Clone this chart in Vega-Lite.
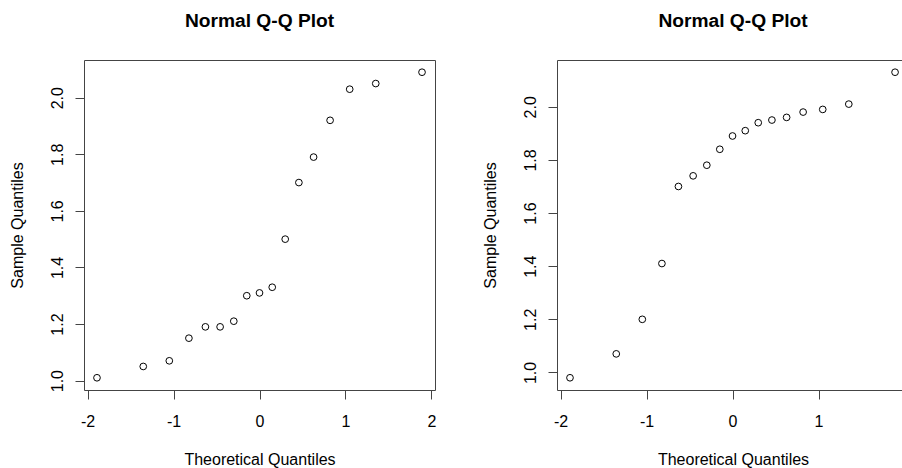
{
  "$schema": "https://vega.github.io/schema/vega-lite/v6.json",
  "padding": {"left": 9, "top": 11, "right": 0, "bottom": 0},
  "background": "white",
  "spacing": 45,
  "config": {
    "font": "Liberation Sans",
    "view": {"stroke": "#444", "strokeWidth": 1},
    "axis": {
      "grid": false,
      "domain": false,
      "tickColor": "#444",
      "tickSize": 9,
      "tickWidth": 1,
      "labelFont": "Liberation Sans",
      "labelFontSize": 16,
      "labelColor": "black",
      "titleFont": "Liberation Sans",
      "titleFontSize": 16,
      "titleFontWeight": "normal",
      "titleColor": "black"
    },
    "title": {
      "font": "Liberation Sans",
      "fontSize": 19.2,
      "fontWeight": "bold",
      "color": "black",
      "baseline": "alphabetic",
      "offset": 29,
      "anchor": "middle",
      "frame": "group"
    }
  },
  "datasets": {
    "left": [
      {"theoretical": -1.890, "sample": 1.01},
      {"theoretical": -1.352, "sample": 1.05},
      {"theoretical": -1.049, "sample": 1.07},
      {"theoretical": -0.821, "sample": 1.15},
      {"theoretical": -0.629, "sample": 1.19},
      {"theoretical": -0.458, "sample": 1.19},
      {"theoretical": -0.299, "sample": 1.21},
      {"theoretical": -0.148, "sample": 1.30},
      {"theoretical": 0.0, "sample": 1.31},
      {"theoretical": 0.148, "sample": 1.33},
      {"theoretical": 0.299, "sample": 1.50},
      {"theoretical": 0.458, "sample": 1.70},
      {"theoretical": 0.629, "sample": 1.79},
      {"theoretical": 0.821, "sample": 1.92},
      {"theoretical": 1.049, "sample": 2.03},
      {"theoretical": 1.352, "sample": 2.05},
      {"theoretical": 1.890, "sample": 2.09}
    ],
    "right": [
      {"theoretical": -1.890, "sample": 0.98},
      {"theoretical": -1.352, "sample": 1.07},
      {"theoretical": -1.049, "sample": 1.20},
      {"theoretical": -0.821, "sample": 1.41},
      {"theoretical": -0.629, "sample": 1.70},
      {"theoretical": -0.458, "sample": 1.74},
      {"theoretical": -0.299, "sample": 1.78},
      {"theoretical": -0.148, "sample": 1.84},
      {"theoretical": 0.0, "sample": 1.89},
      {"theoretical": 0.148, "sample": 1.91},
      {"theoretical": 0.299, "sample": 1.94},
      {"theoretical": 0.458, "sample": 1.95},
      {"theoretical": 0.629, "sample": 1.96},
      {"theoretical": 0.821, "sample": 1.98},
      {"theoretical": 1.049, "sample": 1.99},
      {"theoretical": 1.352, "sample": 2.01},
      {"theoretical": 1.890, "sample": 2.13}
    ]
  },
  "hconcat": [
    {
      "width": 351,
      "height": 330,
      "title": "Normal Q-Q Plot",
      "data": {"name": "left"},
      "mark": {"type": "point", "shape": "circle", "filled": false, "size": 45, "strokeWidth": 1, "color": "black", "opacity": 1},
      "encoding": {
        "x": {
          "field": "theoretical",
          "type": "quantitative",
          "scale": {"domain": [-2.041, 2.041], "nice": false, "zero": false},
          "axis": {
            "title": "Theoretical Quantiles",
            "values": [-2, -1, 0, 1, 2],
            "labelExpr": "'' + datum.value",
            "labelBaseline": "alphabetic",
            "labelPadding": 27.5,
            "titleBaseline": "alphabetic",
            "titleAlign": "center",
            "titleX": 175.5,
            "titleY": 74
          }
        },
        "y": {
          "field": "sample",
          "type": "quantitative",
          "scale": {"domain": [0.9668, 2.1332], "nice": false, "zero": false},
          "axis": {
            "title": "Sample Quantiles",
            "values": [1.0, 1.2, 1.4, 1.6, 1.8, 2.0],
            "labelExpr": "format(datum.value, '.1f')",
            "labelAngle": 270,
            "labelAlign": "center",
            "labelBaseline": "alphabetic",
            "labelPadding": 13,
            "titleAngle": 270,
            "titleAlign": "center",
            "titleBaseline": "alphabetic",
            "titleX": -61.5,
            "titleY": 165
          }
        }
      }
    },
    {
      "width": 345,
      "height": 330,
      "title": {"text": "Normal Q-Q Plot", "dx": 3.5},
      "view": {"stroke": null},
      "data": {"name": "right"},
      "layer": [
        {
          "mark": {"type": "point", "shape": "circle", "filled": false, "size": 45, "strokeWidth": 1, "color": "black", "opacity": 1},
          "encoding": {
            "x": {
              "field": "theoretical",
              "type": "quantitative",
              "scale": {"domain": [-2.041, 1.9707], "nice": false, "zero": false},
              "axis": {
                "title": "Theoretical Quantiles",
                "values": [-2, -1, 0, 1],
                "labelExpr": "'' + datum.value",
                "labelBaseline": "alphabetic",
                "labelPadding": 27.5,
                "titleBaseline": "alphabetic",
                "titleAlign": "center",
                "titleX": 176,
                "titleY": 74,
                "domain": true,
                "domainColor": "#444",
                "domainWidth": 1
              }
            },
            "y": {
              "field": "sample",
              "type": "quantitative",
              "scale": {"domain": [0.934, 2.176], "nice": false, "zero": false},
              "axis": {
                "title": "Sample Quantiles",
                "values": [1.0, 1.2, 1.4, 1.6, 1.8, 2.0],
                "labelExpr": "format(datum.value, '.1f')",
                "labelAngle": 270,
                "labelAlign": "center",
                "labelBaseline": "alphabetic",
                "labelPadding": 13,
                "titleAngle": 270,
                "titleAlign": "center",
                "titleBaseline": "alphabetic",
                "titleX": -61.5,
                "titleY": 165,
                "domain": true,
                "domainColor": "#444",
                "domainWidth": 1
              }
            }
          }
        },
        {
          "mark": {"type": "point", "opacity": 0},
          "encoding": {
            "x": {
              "field": "theoretical",
              "type": "quantitative",
              "axis": {
                "orient": "top",
                "domain": true,
                "domainColor": "#444",
                "domainWidth": 1,
                "ticks": false,
                "labels": false,
                "title": null
              }
            },
            "y": {"field": "sample", "type": "quantitative"}
          }
        }
      ],
      "resolve": {"axis": {"x": "independent"}}
    }
  ]
}
